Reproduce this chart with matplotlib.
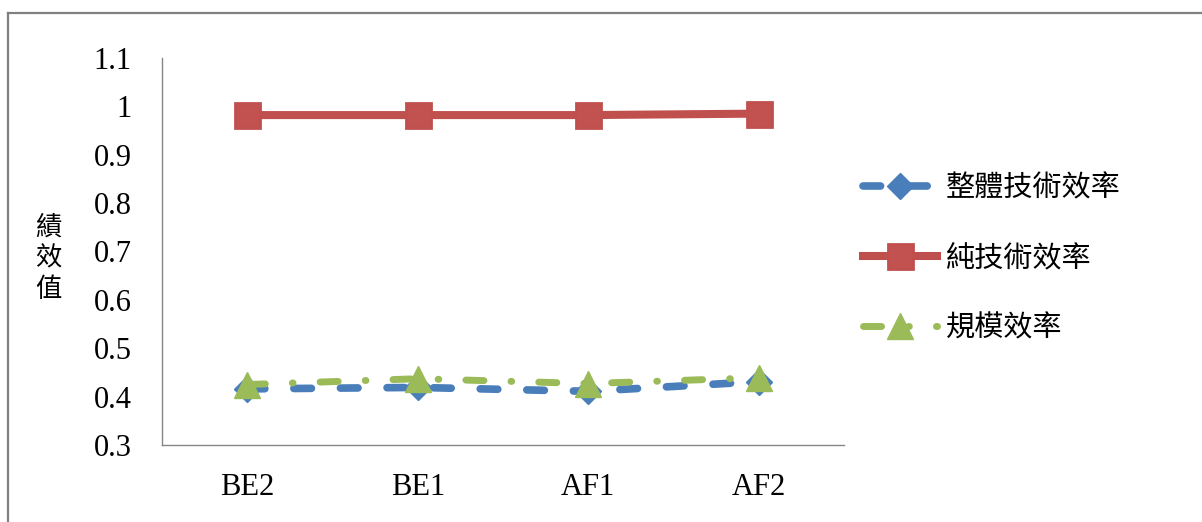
import matplotlib
matplotlib.use("Agg")
import matplotlib.pyplot as plt
from matplotlib.lines import Line2D

categories = ["BE2", "BE1", "AF1", "AF2"]
overall_te = [0.416, 0.419, 0.411, 0.431]
pure_te = [0.982, 0.982, 0.982, 0.985]
scale_eff = [0.425, 0.437, 0.427, 0.439]
series_names = ["整體技術效率", "純技術效率", "規模效率"]
yticks = [0.3, 0.4, 0.5, 0.6, 0.7, 0.8, 0.9, 1.0, 1.1]
ytick_labels = ["0.3", "0.4", "0.5", "0.6", "0.7", "0.8", "0.9", "1", "1.1"]
ylabel = "績\n效\n值"

fam = ["Liberation Serif", "Noto Sans CJK TC", "DejaVu Sans"]
plt.rcParams["font.family"] = fam

fig = plt.figure(figsize=(12.02, 5.22), dpi=100)
ax = fig.add_axes([162/1202, 1-445/522, (844-162)/1202, (445-58)/522])

x = list(range(len(categories)))
blue = "#4A7EBB"
red = "#C0504D"
green = "#9BBB59"

l1, = ax.plot(x, overall_te, color=blue, lw=5.5, marker="D", ms=13,
              dash_capstyle="round", solid_capstyle="round", zorder=3,
              label=series_names[0])
l1.set_dashes([2.3, 3.8])
l2, = ax.plot(x, pure_te, color=red, lw=5.8, marker="s", ms=18,
              markeredgewidth=2, markeredgecolor=red, zorder=4,
              label=series_names[1])
l2.set_markerfacecolor("#C2524F")
l3, = ax.plot(x, scale_eff, color=green, lw=5.0, marker="^", ms=19,
              dash_capstyle="round", zorder=5, label=series_names[2])
l3.set_dashes([2.6, 3.9, 0.1, 3.9])

ax.set_xlim(-0.5, 3.5)
ax.set_ylim(0.3, 1.1)
ax.set_yticks(yticks)
ax.set_yticklabels(ytick_labels)
ax.set_xticks(x)
ax.set_xticklabels(categories)
ax.tick_params(axis="both", length=0, labelsize=22)
ax.tick_params(axis="y", pad=22)
ax.tick_params(axis="x", pad=20)
for s in ["top", "right"]:
    ax.spines[s].set_visible(False)
for s in ["left", "bottom"]:
    ax.spines[s].set_color("#868686")
    ax.spines[s].set_linewidth(1.0)

fig.text(48/1202, 1-258/522, ylabel, ha="center", va="center",
         fontsize=19, linespacing=1.2, family=["Noto Sans CJK TC", "DejaVu Sans"])

leg = ax.legend(loc="center left", bbox_to_anchor=(863/1202, 1-258/522),
                bbox_transform=fig.transFigure, frameon=False,
                prop={"family": ["Noto Sans CJK TC", "DejaVu Sans"], "size": 21},
                handlelength=2.55, handletextpad=0.3, labelspacing=1.37,
                borderaxespad=0, borderpad=0)

# outer frame (top and left edges visible)
fig.add_artist(Line2D([8/1202, 1.0], [1-13/522, 1-13/522], transform=fig.transFigure,
                      color="#808080", lw=1.6))
fig.add_artist(Line2D([8/1202, 8/1202], [0.0, 1-13/522], transform=fig.transFigure,
                      color="#808080", lw=1.6))

fig.savefig("out.png", dpi=100)
